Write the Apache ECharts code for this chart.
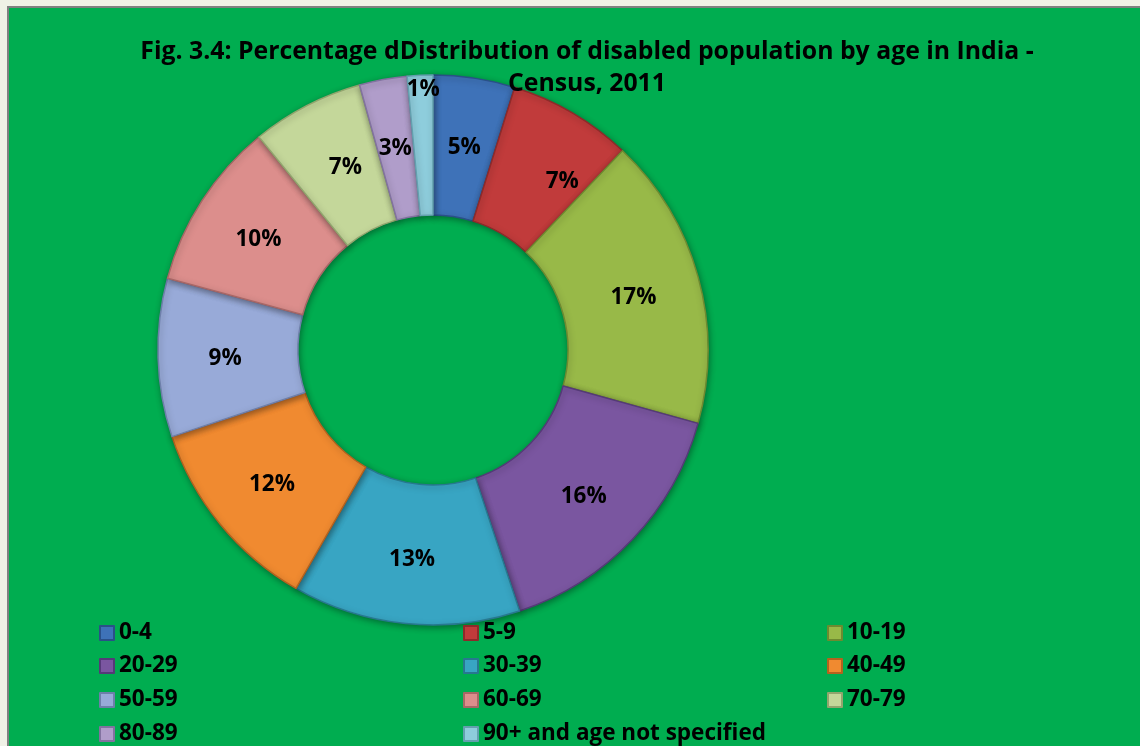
<!DOCTYPE html>
<html>
<head>
<meta charset="utf-8">
<script src="https://cdn.jsdelivr.net/npm/echarts@6/dist/echarts.min.js"></script>
<style>
html,body{margin:0;padding:0;background:#EFF1E6;}
#chart{position:absolute;left:0;top:0;width:1140px;height:746px;}
</style>
</head>
<body>
<div id="chart"></div>
<script>
var categories = ['0-4','5-9','10-19','20-29','30-39','40-49','50-59','60-69','70-79','80-89','90+ and age not specified'];
var values = [4.8, 7.3, 17.2, 15.6, 13.4, 11.6, 9.3, 9.9, 6.6, 2.8, 1.5];
var labels = ['5%','7%','17%','16%','13%','12%','9%','10%','7%','3%','1%'];

var colors = ['#3E72B8','#C13B3B','#98B948','#7A56A0','#38A5C3','#F08A30','#98AAD8','#DC8E8C','#C4D79A','#B09DCA','#8ECDDC'];
var borders = ['#2A5088','#8E2A2A','#6E8A30','#553A78','#27788F','#B5621E','#6E7FAA','#A86766','#92A56E','#8272A0','#63A0AE'];

var font = '"Open Sans", sans-serif';
var chart = echarts.init(document.getElementById('chart'), null, {renderer:'canvas'});

var pieData = categories.map(function(c,i){
  return {name:c, value:values[i],
    itemStyle:{color:colors[i], borderColor:borders[i]},
    label:{formatter:labels[i]}};
});

var labelShift = {1:{dx:24, dy:11}, 8:{dx:8, dy:2}, 10:{dx:0, dy:-53}};

function legendRow(names, top){
  return {
    orient:'horizontal', left:99, top:top, padding:0,
    data:names.map(function(n,k){
      var d = {name:n, icon:'rect'};
      if(k===2){ d.textStyle = {width:120}; }
      return d;
    }),
    itemWidth:14, itemHeight:14, itemGap:0,
    textStyle:{fontFamily:font, fontWeight:'bold', fontSize:22.5, color:'#000', width:344, lineHeight:24},
    selectedMode:false
  };
}

chart.setOption({
  animation:false,
  backgroundColor:'transparent',
  color:colors,
  graphic:[{type:'rect', z:-10, shape:{x:8, y:7, width:1140, height:746},
    style:{fill:'#00AD50', stroke:'#808080', lineWidth:2}}],
  title:{
    text:'Fig. 3.4: Percentage dDistribution of disabled population by age in India -\nCensus, 2011',
    left:582, textAlign:'center', top:31,
    textStyle:{fontFamily:font, fontWeight:'bold', fontSize:24.8, color:'#000', lineHeight:32}
  },
  legend:[
    legendRow([categories[0],categories[1],categories[2]], 621),
    legendRow([categories[3],categories[4],categories[5]], 654),
    legendRow([categories[6],categories[7],categories[8]], 688),
    legendRow([categories[9],categories[10]], 722)
  ],
  series:[{
    type:'pie',
    center:[433,350],
    radius:[135,275],
    startAngle:90,
    clockwise:true,
    avoidLabelOverlap:false,
    itemStyle:{borderWidth:1.5, shadowColor:'rgba(0,0,0,0.35)', shadowBlur:6, shadowOffsetX:1, shadowOffsetY:2},
    label:{show:true, position:'inside', fontFamily:font, fontWeight:'bold', fontSize:22.5, color:'#000'},
    labelLine:{show:false},
    labelLayout:function(p){ return labelShift[p.dataIndex] || {dy:3}; },
    emphasis:{disabled:true},
    data:pieData
  }]
});
</script>
</body>
</html>
